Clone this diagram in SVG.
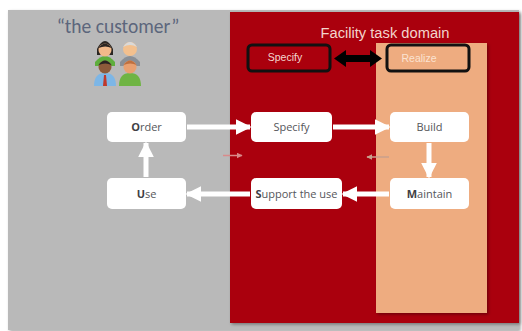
<svg xmlns="http://www.w3.org/2000/svg" width="522" height="331" viewBox="0 0 522 331">
  <defs>
    <filter id="sh" x="-5%" y="-5%" width="110%" height="110%">
      <feDropShadow dx="1.5" dy="1.5" stdDeviation="1.5" flood-color="#000" flood-opacity="0.35"/>
    </filter>
    <marker id="wh" viewBox="0 0 10 10" refX="9" refY="5" markerWidth="3.2" markerHeight="3.2" orient="auto" markerUnits="strokeWidth">
      <path d="M0,0 L10,5 L0,10 z" fill="#ffffff"/>
    </marker>
    <marker id="pk" viewBox="0 0 10 10" refX="9" refY="5" markerWidth="4" markerHeight="4" orient="auto" markerUnits="strokeWidth">
      <path d="M0,0 L10,5 L0,10 z" fill="#d98a8a"/>
    </marker>
    <marker id="gy" viewBox="0 0 10 10" refX="9" refY="5" markerWidth="4" markerHeight="4" orient="auto" markerUnits="strokeWidth">
      <path d="M0,0 L10,5 L0,10 z" fill="#c9a08c"/>
    </marker>
  </defs>
  <style>
    .node rect { fill: #ffffff; }
    .node text { font-family: "Open Sans", "Liberation Sans", sans-serif; font-size: 11px; fill: #55565a; text-anchor: middle; }
    .node tspan.b { font-weight: bold; fill: #3f4044; }
    .flow { stroke: #ffffff; stroke-width: 5; fill: none; marker-end: url(#wh); }
    .tag rect { fill: none; stroke: #111; stroke-width: 3; }
    .tag text { font-family: "Liberation Sans", Arial, sans-serif; font-size: 10.5px; text-anchor: middle; }
  </style>

  <rect x="0" y="0" width="522" height="331" fill="#ffffff"/>

  <!-- customer side -->
  <rect id="customer-panel" x="8" y="10" width="511" height="320" fill="#b9b9b9" filter="url(#sh)"/>
  <text x="118" y="33" font-family="Calibri, 'Open Sans', 'Liberation Sans', sans-serif" font-size="19.5" fill="#5c667c" text-anchor="middle">“the customer”</text>

  <!-- people icon -->
  <g id="people">
    <!-- back right: grey-haired man -->
    <path d="M120,62 q10,-12 20,0 v4 h-20 z" fill="#8a8f96"/>
    <circle cx="130" cy="49" r="7" fill="#f3c08e"/>
    <path d="M123,47 q7,-10 14,0 q-7,-4 -14,0 z" fill="#d9d9d9"/>
    <!-- back left: woman -->
    <path d="M95,62 q10,-12 20,0 v4 h-20 z" fill="#5fae3c"/>
    <path d="M97,49 q8,-16 16,0 v6 h-16 z" fill="#2a2522"/>
    <circle cx="105" cy="50" r="6.5" fill="#f2b98a"/>
    <path d="M98.5,48 q6.5,-9 13,0 q-6,-3 -13,0 z" fill="#2a2522"/>
    <!-- front left: man in shirt and tie -->
    <path d="M94,86 q0,-13 11,-13 q11,0 11,13 z" fill="#7db6e6"/>
    <path d="M104,75 h2 l1,11 h-4 z" fill="#c0392b"/>
    <circle cx="105" cy="67" r="6.5" fill="#8c5a3a"/>
    <path d="M98.5,65 q6.5,-9 13,0 q-6,-3 -13,0 z" fill="#2a2522"/>
    <!-- front right: green shirt -->
    <path d="M119,86 q0,-13 11,-13 q11,0 11,13 z" fill="#6fb444"/>
    <circle cx="130" cy="67" r="6.5" fill="#e9a070"/>
    <path d="M123.5,65 q6.5,-9 13,0 q-6,-3 -13,0 z" fill="#c0703f"/>
  </g>

  <!-- facility side -->
  <rect id="facility-panel" x="230" y="12" width="289" height="311" fill="#aa0508" filter="url(#sh)"/>
  <rect id="realize-panel" x="376" y="43" width="111" height="270" fill="#eeac80" filter="url(#sh)"/>
  <text x="385" y="38" font-family="'Liberation Sans', Arial, sans-serif" font-size="14.7" fill="#f3d4cc" text-anchor="middle">Facility task domain</text>

  <g id="tag-specify" class="tag">
    <rect x="248" y="45" width="82" height="26" rx="4"/>
    <text x="285" y="61" fill="#f3d7d0">Specify</text>
  </g>
  <g id="tag-realize" class="tag">
    <rect x="387" y="45" width="82" height="26" rx="4"/>
    <text x="419" y="62" fill="#fbe3d2">Realize</text>
  </g>
  <path id="double-arrow" d="M334,58.5 L346,50 V55 H370 V50 L382,58.5 L370,67 V62 H346 V67 Z" fill="#000000"/>

  <!-- connectors -->
  <g id="connectors">
    <line class="flow" x1="187" y1="127" x2="250" y2="127"/>
    <line class="flow" x1="333" y1="127" x2="389" y2="127"/>
    <line class="flow" x1="429" y1="143" x2="429" y2="177"/>
    <line class="flow" x1="389" y1="194" x2="343" y2="194"/>
    <line class="flow" x1="250" y1="194" x2="187" y2="194"/>
    <line class="flow" x1="146" y1="177" x2="146" y2="143"/>
    <line x1="223" y1="155.5" x2="242" y2="155.5" stroke="#d98a8a" stroke-width="1.5" marker-end="url(#pk)"/>
    <line x1="389" y1="157" x2="367" y2="157" stroke="#c9a08c" stroke-width="1.5" marker-end="url(#gy)"/>
  </g>

  <!-- process nodes -->
  <g id="order" class="node">
    <rect x="107" y="112" width="79" height="30" rx="5"/>
    <text x="146.5" y="131"><tspan class="b">O</tspan>rder</text>
  </g>
  <g id="specify" class="node">
    <rect x="251" y="112" width="81" height="30" rx="5"/>
    <text x="291.5" y="131">Specify</text>
  </g>
  <g id="build" class="node">
    <rect x="390" y="112" width="79" height="30" rx="5"/>
    <text x="429.5" y="131">Build</text>
  </g>
  <g id="maintain" class="node">
    <rect x="390" y="178" width="79" height="31" rx="5"/>
    <text x="429.5" y="197.5"><tspan class="b">M</tspan>aintain</text>
  </g>
  <g id="support" class="node">
    <rect x="251" y="178" width="91" height="31" rx="5"/>
    <text x="296.5" y="197.5"><tspan class="b">S</tspan>upport the use</text>
  </g>
  <g id="use" class="node">
    <rect x="107" y="178" width="79" height="31" rx="5"/>
    <text x="146.5" y="197.5"><tspan class="b">U</tspan>se</text>
  </g>
</svg>
